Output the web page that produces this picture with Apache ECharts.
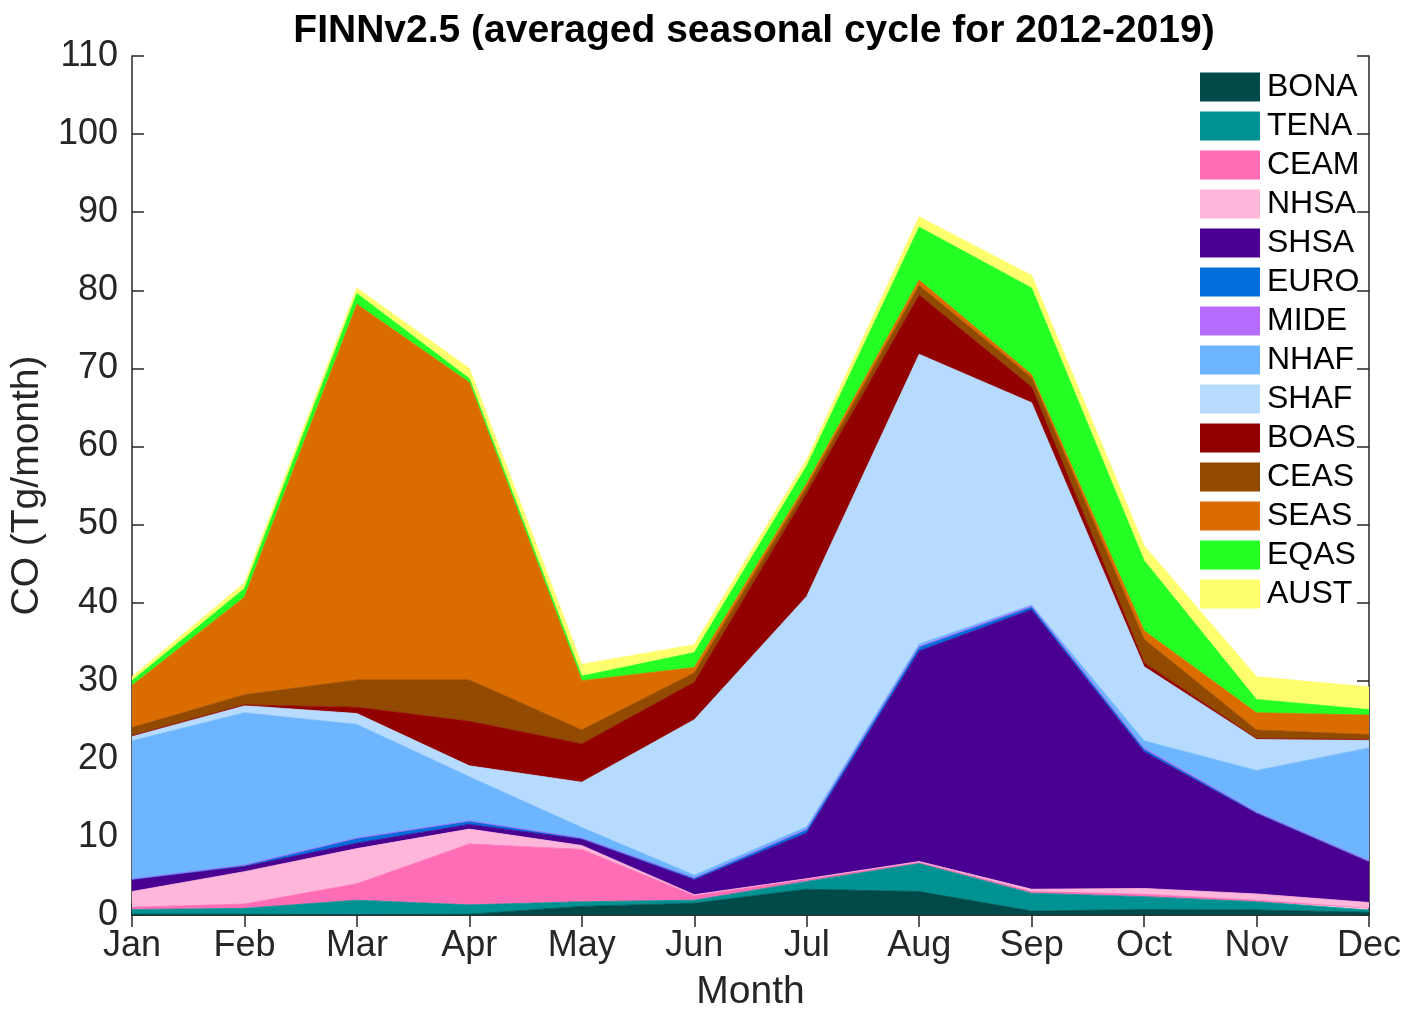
<!DOCTYPE html>
<html>
<head>
<meta charset="utf-8">
<script src="https://cdn.jsdelivr.net/npm/echarts@6/dist/echarts.min.js"></script>
<style>
html,body{margin:0;padding:0;background:#fff;}
#chart{width:1412px;height:1022px;}
</style>
</head>
<body>
<div id="chart"></div>
<script>
const months = ['Jan','Feb','Mar','Apr','May','Jun','Jul','Aug','Sep','Oct','Nov','Dec'];
const yTicks = [0,10,20,30,40,50,60,70,80,90,100,110];

const BONA = [0.1, 0.1, 0.05, 0.1, 1.1, 1.5, 3.3, 3.0, 0.5, 0.7, 0.65, 0.35];
const TENA = [0.6, 0.75, 1.85, 1.2, 0.6, 0.4, 1.0, 3.6, 2.3, 1.65, 1.05, 0.3];
const CEAM = [0.3, 0.55, 2.1, 7.8, 6.7, 0.6, 0.3, 0.15, 0.2, 0.3, 0.2, 0.2];
const NHSA = [2.0, 4.15, 4.5, 1.9, 0.5, 0.1, 0.05, 0.1, 0.3, 0.75, 0.8, 0.75];
const SHSA = [1.5, 0.65, 0.7, 0.6, 0.8, 1.9, 5.85, 26.95, 35.8, 17.5, 10.3, 5.2];
const EURO = [0.05, 0.15, 0.6, 0.4, 0.1, 0.2, 0.4, 0.5, 0.3, 0.3, 0.1, 0.1];
const MIDE = [0.05, 0.05, 0.05, 0.05, 0.05, 0.05, 0.1, 0.1, 0.2, 0.2, 0.1, 0.05];
const NHAF = [17.7, 19.5, 14.55, 5.65, 1.35, 0.35, 0.3, 0.3, 0.1, 0.9, 5.3, 14.45];
const SHAF = [0.6, 0.9, 1.4, 1.4, 5.8, 19.9, 29.5, 37.1, 25.9, 9.5, 4.0, 1.0];
const BOAS = [0.05, 0.1, 0.8, 5.7, 4.9, 4.8, 13.2, 7.6, 2.0, 0.5, 0.1, 0.05];
const CEAS = [1.05, 1.3, 3.5, 5.3, 1.8, 1.2, 0.8, 1.2, 1.2, 3.0, 1.1, 0.65];
const SEAS = [5.4, 12.5, 48.1, 38.1, 6.3, 0.7, 0.5, 0.7, 0.4, 1.1, 2.2, 2.5];
const EQAS = [0.6, 1.1, 1.4, 0.5, 0.6, 1.9, 2.2, 6.8, 11.1, 9.0, 1.7, 0.7];
const AUST = [0.5, 0.7, 0.7, 1.3, 1.5, 1.0, 0.8, 1.3, 1.6, 1.9, 2.9, 2.9];

const regionNames = ['BONA','TENA','CEAM','NHSA','SHSA','EURO','MIDE','NHAF','SHAF','BOAS','CEAS','SEAS','EQAS','AUST'];
const regionData = [BONA,TENA,CEAM,NHSA,SHSA,EURO,MIDE,NHAF,SHAF,BOAS,CEAS,SEAS,EQAS,AUST];
const regionColors = ['#004949','#009292','#ff6db6','#ffb6db','#490092','#006ddb','#b66dff','#6db6ff','#b6dbff','#920000','#924900','#db6d00','#24ff24','#ffff6d'];

const FONT = '"Liberation Sans", Arial, Helvetica, sans-serif';
const AX = '#262626';

const chart = echarts.init(document.getElementById('chart'), null, {renderer:'canvas'});

const series = regionNames.map((n,i)=>({
  name: n,
  type: 'line',
  stack: 'total',
  data: regionData[i],
  symbol: 'none',
  showSymbol: false,
  color: regionColors[i],
  lineStyle: {width: 0.8, color: regionColors[i]},
  areaStyle: {color: regionColors[i], opacity: 1},
  itemStyle: {color: regionColors[i]},
  emphasis: {disabled: true},
  animation: false
}));

const option = {
  animation: false,
  backgroundColor: '#ffffff',
  title: {
    text: 'FINNv2.5 (averaged seasonal cycle for 2012-2019)',
    left: 749, top: 7, textAlign: 'center',
    textStyle: {fontFamily: FONT, fontWeight: 'bold', fontSize: 39, color: '#000'}
  },
  legend: {
    orient: 'vertical',
    left: 1200, top: 71, padding: 0,
    itemWidth: 60, itemHeight: 29, itemGap: 7,
    icon: 'rect',
    data: regionNames,
    textStyle: {fontFamily: FONT, fontSize: 32, color: '#000', padding: [0,0,0,2]},
    selectedMode: false
  },
  grid: {left: 130, right: 43, top: 56, bottom: 107, containLabel: false},
  xAxis: [{
    type: 'category', data: months, boundaryGap: false,
    name: 'Month', nameLocation: 'middle', nameGap: 58,
    nameTextStyle: {fontFamily: FONT, fontSize: 39, color: AX},
    axisLine: {show: true, lineStyle: {color: AX, width: 1.5}},
    axisTick: {show: true, inside: true, length: 12, lineStyle: {color: AX, width: 1.5}, alignWithLabel: true},
    axisLabel: {fontFamily: FONT, fontSize: 36, color: AX, margin: 13, interval: 0},
    splitLine: {show: false}
  },{
    type: 'category', data: months, boundaryGap: false, position: 'top',
    axisLine: {show: true, lineStyle: {color: AX, width: 1.5}},
    axisTick: {show: true, inside: true, length: 12, lineStyle: {color: AX, width: 1.5}},
    axisLabel: {show: false}, splitLine: {show: false}
  }],
  yAxis: [{
    type: 'value', min: 0, max: 110, interval: 10,
    name: 'CO (Tg/month)', nameLocation: 'middle', nameGap: 78, nameRotate: 90,
    nameTextStyle: {fontFamily: FONT, fontSize: 39, color: AX},
    axisLine: {show: true, lineStyle: {color: AX, width: 1.5}},
    axisTick: {show: true, inside: true, length: 12, lineStyle: {color: AX, width: 1.5}},
    axisLabel: {fontFamily: FONT, fontSize: 36, color: AX, margin: 14,
      formatter: v => (yTicks.indexOf(v) >= 0 ? String(v) : '')},
    splitLine: {show: false}
  },{
    type: 'value', min: 0, max: 110, interval: 10, position: 'right',
    axisLine: {show: true, lineStyle: {color: AX, width: 1.5}},
    axisTick: {show: true, inside: true, length: 12, lineStyle: {color: AX, width: 1.5}},
    axisLabel: {show: false}, splitLine: {show: false}
  }],
  series: series
};
chart.setOption(option);
</script>
</body>
</html>
